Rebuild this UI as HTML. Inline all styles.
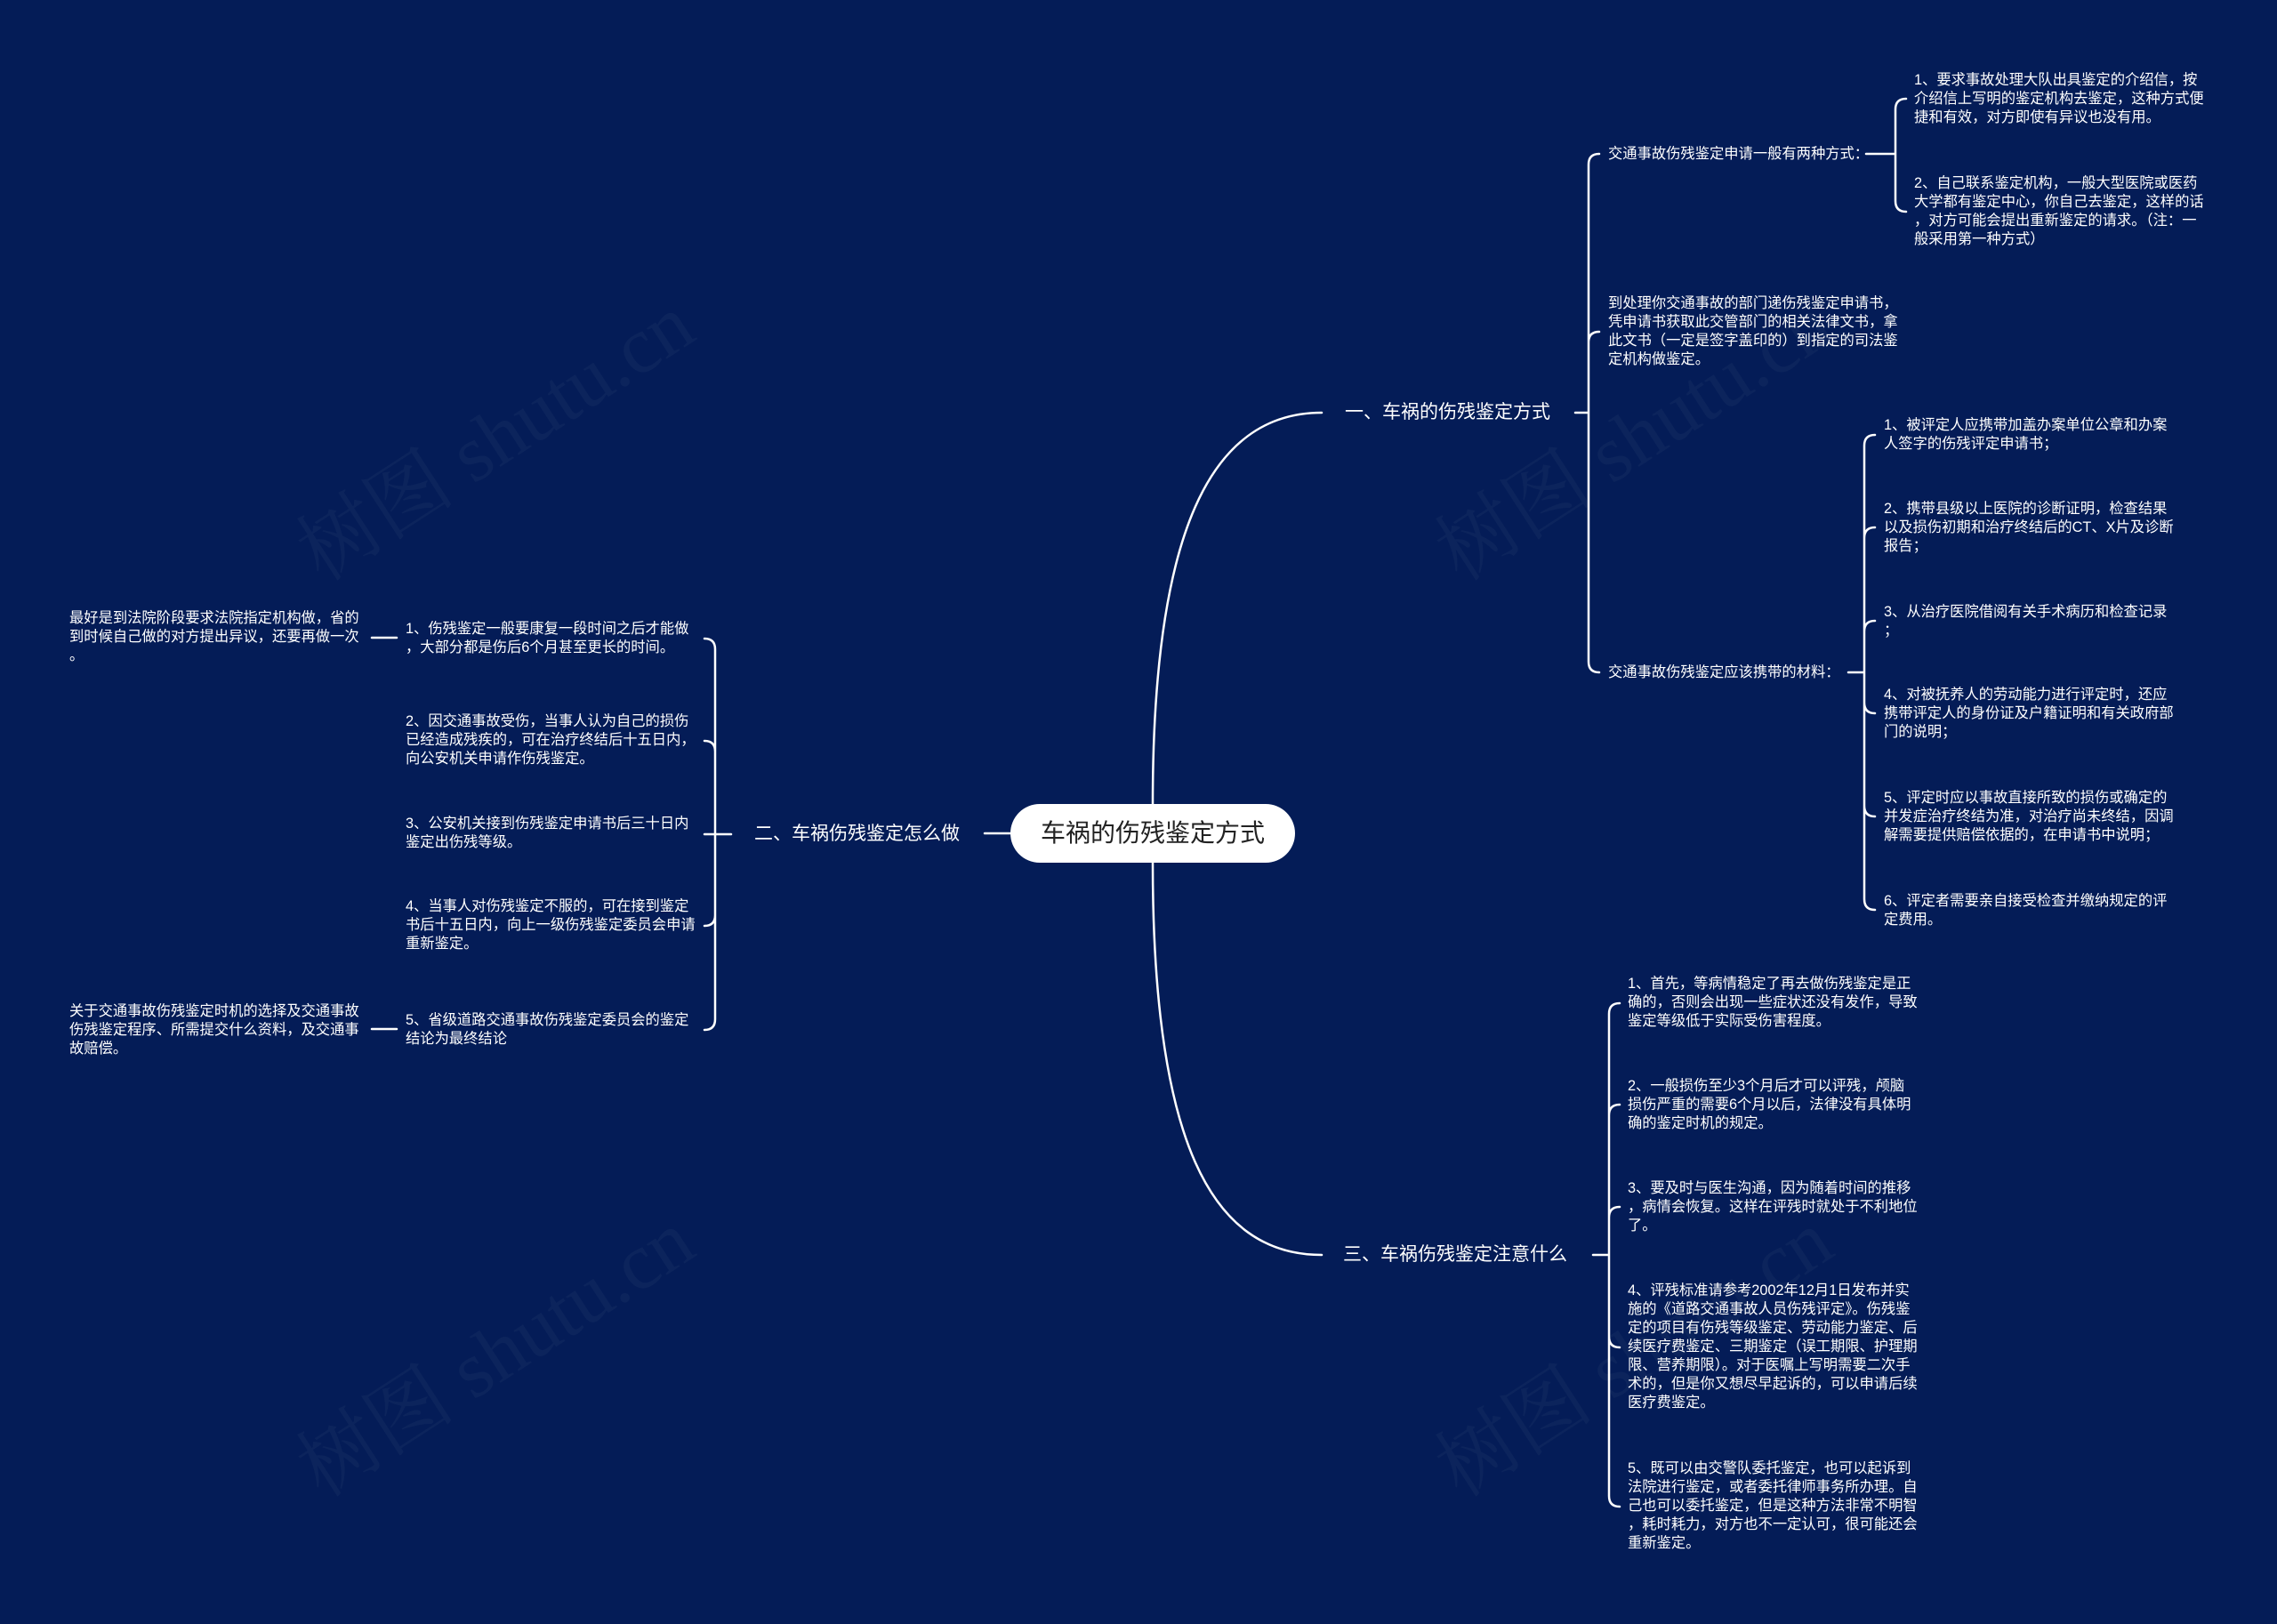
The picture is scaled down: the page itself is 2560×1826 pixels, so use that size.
<!DOCTYPE html>
<html><head><meta charset="utf-8">
<style>
html,body{margin:0;padding:0;}
body{width:2560px;height:1826px;background:#041c57;position:relative;overflow:hidden;font-family:"Liberation Sans","Noto Sans CJK SC",sans-serif;color:#fff;}
.t{position:absolute;font-size:16.3px;line-height:21px;white-space:nowrap;}
.b{position:absolute;font-size:21px;line-height:28px;white-space:nowrap;}
.wm{position:absolute;font-family:"Liberation Serif","Noto Serif CJK SC",serif;font-size:90px;color:rgba(255,255,255,0.035);transform:rotate(-33deg);white-space:nowrap;}
#root{position:absolute;left:1136px;top:904px;width:320px;height:66px;background:#fff;border-radius:33px;color:#222;font-size:28px;line-height:66px;text-align:center;}
svg{position:absolute;left:0;top:0;}
</style></head><body>
<div class="wm" style="left:300px;top:420px;">树图 shutu.cn</div>
<div class="wm" style="left:1580px;top:420px;">树图 shutu.cn</div>
<div class="wm" style="left:300px;top:1450px;">树图 shutu.cn</div>
<div class="wm" style="left:1580px;top:1450px;">树图 shutu.cn</div>
<svg width="2560" height="1826" fill="none" stroke="#fff" stroke-width="2.5" stroke-linecap="round">
<path d="M1296 904 C1296 600 1360 464 1486 464"/>
<path d="M1296 970 C1296 1280 1360 1411 1486 1411"/>
<path d="M1107 937 H1136"/>
<path d="M1771 464 H1786 M1786 185 V744 M1786 185 Q1786 173 1798 173 M1786 385 Q1786 373 1798 373 M1786 744 Q1786 756 1798 756"/>
<path d="M2098 173 H2131 M2131 123 V226 M2131 123 Q2131 111 2143 111 M2131 226 Q2131 238 2143 238"/>
<path d="M2078 756 H2096 M2096 501 V1011 M2096 501 Q2096 489 2108 489 M2096 605 Q2096 593 2108 593 M2096 710 Q2096 698 2108 698 M2096 790 Q2096 802 2108 802 M2096 906 Q2096 918 2108 918 M2096 1011 Q2096 1023 2108 1023"/>
<path d="M1791 1411 H1809 M1809 1140 V1682 M1809 1140 Q1809 1128 1821 1128 M1809 1254 Q1809 1242 1821 1242 M1809 1369 Q1809 1357 1821 1357 M1809 1503 Q1809 1515 1821 1515 M1809 1682 Q1809 1694 1821 1694"/>
<path d="M822 938 H804 M804 730 V1146 M804 730 Q804 718 792 718 M804 845 Q804 833 792 833 M804 938 H792 M804 1029 Q804 1041 792 1041 M804 1146 Q804 1158 792 1158"/>
<path d="M418 717 H446 M418 1157 H446"/>
</svg>
<div id="root">车祸的伤残鉴定方式</div>
<div class="b" style="left:1512px;top:450px;">一、车祸的伤残鉴定方式</div>
<div class="b" style="left:848px;top:924px;">二、车祸伤残鉴定怎么做</div>
<div class="b" style="left:1510px;top:1397px;">三、车祸伤残鉴定注意什么</div>

<div class="t" style="left:1808px;top:163px;">交通事故伤残鉴定申请一般有两种方式：</div>
<div class="t" style="left:1808px;top:331px;">到处理你交通事故的部门递伤残鉴定申请书，<br>凭申请书获取此交管部门的相关法律文书，拿<br>此文书（一定是签字盖印的）到指定的司法鉴<br>定机构做鉴定。</div>
<div class="t" style="left:1808px;top:746px;">交通事故伤残鉴定应该携带的材料：</div>

<div class="t" style="left:2152px;top:80px;">1、要求事故处理大队出具鉴定的介绍信，按<br>介绍信上写明的鉴定机构去鉴定，这种方式便<br>捷和有效，对方即使有异议也没有用。</div>
<div class="t" style="left:2152px;top:196px;">2、自己联系鉴定机构，一般大型医院或医药<br>大学都有鉴定中心，你自己去鉴定，这样的话<br>，对方可能会提出重新鉴定的请求。（注：一<br>般采用第一种方式）</div>

<div class="t" style="left:2118px;top:468px;">1、被评定人应携带加盖办案单位公章和办案<br>人签字的伤残评定申请书；</div>
<div class="t" style="left:2118px;top:562px;">2、携带县级以上医院的诊断证明，检查结果<br>以及损伤初期和治疗终结后的CT、X片及诊断<br>报告；</div>
<div class="t" style="left:2118px;top:678px;">3、从治疗医院借阅有关手术病历和检查记录<br>；</div>
<div class="t" style="left:2118px;top:771px;">4、对被抚养人的劳动能力进行评定时，还应<br>携带评定人的身份证及户籍证明和有关政府部<br>门的说明；</div>
<div class="t" style="left:2118px;top:887px;">5、评定时应以事故直接所致的损伤或确定的<br>并发症治疗终结为准，对治疗尚未终结，因调<br>解需要提供赔偿依据的，在申请书中说明；</div>
<div class="t" style="left:2118px;top:1003px;">6、评定者需要亲自接受检查并缴纳规定的评<br>定费用。</div>

<div class="t" style="left:1830px;top:1096px;">1、首先，等病情稳定了再去做伤残鉴定是正<br>确的，否则会出现一些症状还没有发作，导致<br>鉴定等级低于实际受伤害程度。</div>
<div class="t" style="left:1830px;top:1211px;">2、一般损伤至少3个月后才可以评残，颅脑<br>损伤严重的需要6个月以后，法律没有具体明<br>确的鉴定时机的规定。</div>
<div class="t" style="left:1830px;top:1326px;">3、要及时与医生沟通，因为随着时间的推移<br>，病情会恢复。这样在评残时就处于不利地位<br>了。</div>
<div class="t" style="left:1830px;top:1441px;">4、评残标准请参考2002年12月1日发布并实<br>施的《道路交通事故人员伤残评定》。伤残鉴<br>定的项目有伤残等级鉴定、劳动能力鉴定、后<br>续医疗费鉴定、三期鉴定（误工期限、护理期<br>限、营养期限）。对于医嘱上写明需要二次手<br>术的，但是你又想尽早起诉的，可以申请后续<br>医疗费鉴定。</div>
<div class="t" style="left:1830px;top:1641px;">5、既可以由交警队委托鉴定，也可以起诉到<br>法院进行鉴定，或者委托律师事务所办理。自<br>己也可以委托鉴定，但是这种方法非常不明智<br>，耗时耗力，对方也不一定认可，很可能还会<br>重新鉴定。</div>

<div class="t" style="left:456px;top:697px;">1、伤残鉴定一般要康复一段时间之后才能做<br>，大部分都是伤后6个月甚至更长的时间。</div>
<div class="t" style="left:456px;top:801px;">2、因交通事故受伤，当事人认为自己的损伤<br>已经造成残疾的，可在治疗终结后十五日内，<br>向公安机关申请作伤残鉴定。</div>
<div class="t" style="left:456px;top:916px;">3、公安机关接到伤残鉴定申请书后三十日内<br>鉴定出伤残等级。</div>
<div class="t" style="left:456px;top:1009px;">4、当事人对伤残鉴定不服的，可在接到鉴定<br>书后十五日内，向上一级伤残鉴定委员会申请<br>重新鉴定。</div>
<div class="t" style="left:456px;top:1137px;">5、省级道路交通事故伤残鉴定委员会的鉴定<br>结论为最终结论</div>

<div class="t" style="left:78px;top:685px;">最好是到法院阶段要求法院指定机构做，省的<br>到时候自己做的对方提出异议，还要再做一次<br>。</div>
<div class="t" style="left:78px;top:1127px;">关于交通事故伤残鉴定时机的选择及交通事故<br>伤残鉴定程序、所需提交什么资料，及交通事<br>故赔偿。</div>
</body></html>
